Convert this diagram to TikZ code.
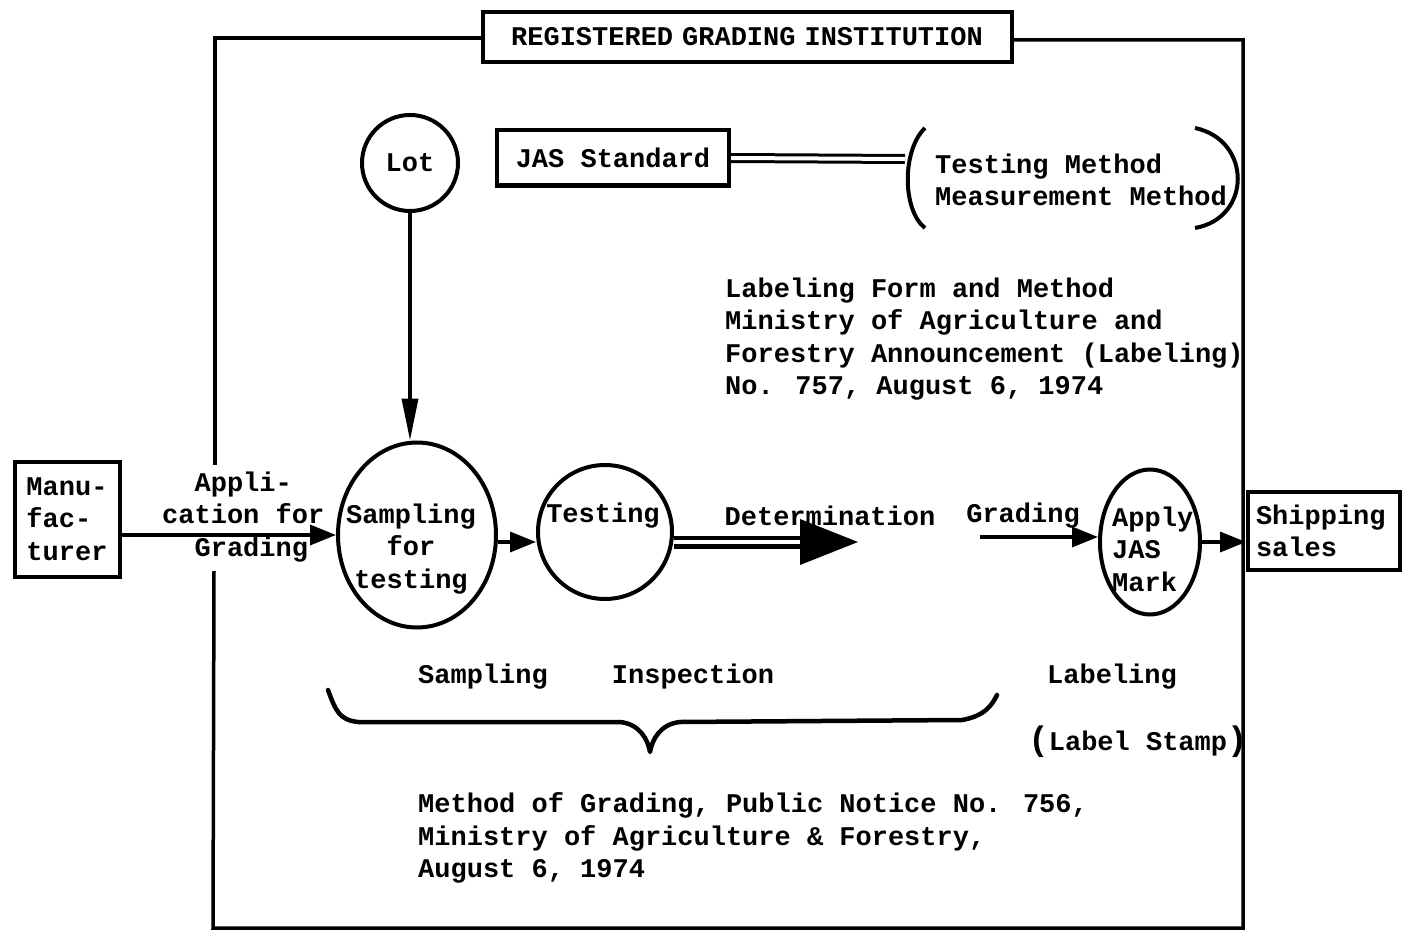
\documentclass[tikz,border=0pt]{standalone}
\usepackage{fontspec}
\setmainfont{Liberation Mono}
\usetikzlibrary{arrows.meta,shapes.geometric}
\newcommand\mytxt{\fontsize{27}{32.5}\selectfont\bfseries}
\tikzset{
  txt/.style={font=\mytxt, inner sep=0pt},
  frame/.style={line width=3.5pt},
  boxed/.style={draw, line width=4pt, font=\mytxt, inner sep=0pt},
  arr/.style={line width=3.5pt, -{Triangle[length=26pt,width=20pt]}},
}
\begin{document}
\begin{tikzpicture}[x=1pt,y=-1pt]
\useasboundingbox (0,0) rectangle (1406,931);
% title
\node[boxed, minimum width=529, minimum height=50, text width=500, align=center] (title) at (747,37) {REGISTERED GRADING INSTITUTION};
% frame
\coordinate (tl) at (215,38);
\coordinate (tr) at (1243,40);
\coordinate (bl) at (213,928);
\coordinate (br) at (1243,928);
\coordinate (lgap1) at (215,465);
\coordinate (lgap2) at (214,571);
\draw[frame] (title.west |- tl) -- (tl) -- (lgap1);
\draw[frame] (lgap2) -- (bl) -- (br) -- (tr) -- (title.east |- tr);
% nodes
\node[boxed, draw, circle, minimum size=96] (lot) at (410,163) {Lot};
\node[boxed, minimum width=232, minimum height=55] (jas) at (613,158) {JAS Standard};
\node[txt, anchor=west, align=left] (tm) at (935,180) {Testing Method\\Measurement Method};
\draw[line width=4pt] (925,128) .. controls (902,150) and (902,210) .. (925,228);
\draw[line width=4pt] (1195,128) .. controls (1252,140) and (1252,218) .. (1195,228);
\coordinate (tmw) at (905,159);
\draw[line width=3pt, double, double distance=4pt] (jas.east) -- (tmw);
\node[txt, anchor=west, align=left] (lab) at (725,339) {Labeling Form and Method\\Ministry of Agriculture and\\Forestry Announcement (Labeling)\\No. 757, August 6, 1974};
\node[boxed, minimum width=105, minimum height=115, align=left] (man) at (67,519) {Manu-\\fac-\\turer};
\node[txt, align=left, anchor=west] (appl) at (162,517) {\phantom{ca}Appli-\\cation for\\\phantom{ca}Grading};
\node[boxed, ellipse, minimum width=158, minimum height=185] (samp) at (417,535) {};
\node[txt, align=center] (sampt) at (411,549) {Sampling\\for\\testing};
\node[boxed, circle, minimum size=134] (test) at (605,532) {};
\node[txt] (testt) at (603,516) {Testing};
\node[txt] (det) at (830,516) {Determination};
\coordinate (detend) at (858,542);
\node[txt] (grad) at (1023,516) {Grading};
\coordinate (gstart) at (980,537);
\node[boxed, ellipse, minimum width=100, minimum height=145] (apply) at (1150,542) {};
\node[txt, align=left, anchor=west] (applyt) at (1112,549) {Apply\\JAS\\Mark};
\node[boxed, minimum width=152, minimum height=78, align=left, text width=136] (ship) at (1324,531) {Shipping\\sales};
% arrows
\draw[line width=3.5pt, -{Triangle[length=42pt,width=16pt]}] (lot.south) -- (lot.south |- samp.north);
\draw[arr] (man.east |- samp.west) -- (samp.west);
\draw[arr] (samp.east) ++(0,7) -- (test.west |- 0,542);
\draw[line width=4.5pt, double, double distance=4pt] (test.east |- detend) -- (802,542);
\fill (800,519) -- (detend) -- (800,565) -- cycle;
\draw[arr] (gstart) -- (apply.west |- gstart);
\draw[arr] (apply.east) -- (ship.west |- apply.east);
% lower labels
\node[txt] (smp) at (483,677) {Sampling};
\node[txt] (insp) at (693,677) {Inspection};
\node[txt] (lbl) at (1112,677) {Labeling};
\node[txt] (stamp) at (1138,742) {{\fontsize{34}{34}\selectfont(}Label Stamp{\fontsize{34}{34}\selectfont)}};
\draw[line width=4.5pt, line join=round, line cap=round] (328,690) .. controls (336,712) and (340,720) .. (358,722) -- (620,722) .. controls (640,724) and (648,740) .. (650,752) .. controls (652,740) and (660,724) .. (680,722) -- (962,720) .. controls (985,716) and (992,705) .. (997,695);
\node[txt, anchor=west, align=left] (meth) at (418,838) {Method of Grading, Public Notice No. 756,\\Ministry of Agriculture \& Forestry,\\August 6, 1974};
\end{tikzpicture}
\end{document}
